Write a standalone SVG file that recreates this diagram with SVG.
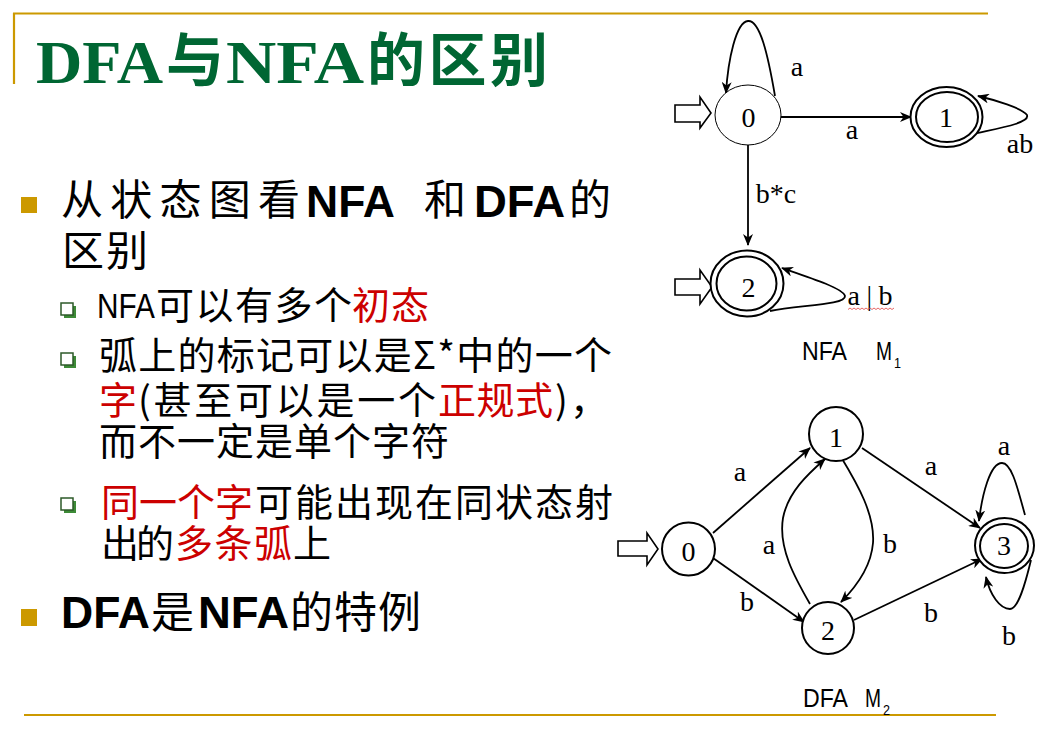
<svg xmlns="http://www.w3.org/2000/svg" width="1039" height="732" viewBox="0 0 1039 732">
<style>
.gold{stroke:#CC9900;stroke-width:2.2;fill:none}
.title{font-family:"Liberation Serif","Noto Sans CJK SC",serif;font-weight:bold;fill:#006633}
.cjk{font-family:"Noto Sans CJK SC",sans-serif;fill:#000}
.lat{font-family:"Liberation Sans","Noto Sans CJK SC",sans-serif;font-weight:bold;fill:#000}
.narrow{font-family:"Liberation Sans","Noto Sans CJK SC",sans-serif;fill:#000}
.red{fill:#CC0000}
.bul{fill:#CC9900}
.st{fill:#fff;stroke:#000;stroke-width:2}
.st0{fill:#fff;stroke:#000;stroke-width:1}
.lbl{font-family:"Liberation Serif","DejaVu Serif",serif;font-size:28px;text-anchor:middle;fill:#000}
.edge{fill:none;stroke:#000;stroke-width:1.8;marker-end:url(#ah)}
.start{fill:#fff;stroke:#000;stroke-width:1.6}
.cap{font-family:"Liberation Sans",sans-serif;fill:#000}
</style>
<defs>
<marker id="ah" viewBox="0 0 12 10" refX="11" refY="5" markerWidth="12" markerHeight="10" markerUnits="userSpaceOnUse" orient="auto">
<path d="M0,0 L12,5 L0,10 L3.5,5 z" fill="#000"/>
</marker>
</defs>
<rect width="1039" height="732" fill="#fff"/>

<!-- frame lines -->
<g id="frame">
<line class="gold" x1="13" y1="13.5" x2="988" y2="13.5"/>
<line class="gold" x1="14" y1="13" x2="14" y2="84"/>
<line class="gold" x1="24" y1="715" x2="996" y2="715"/>
</g>

<!-- title -->
<g id="title">
<text class="title" x="36" y="83" font-size="62" textLength="127" lengthAdjust="spacingAndGlyphs">DFA</text>
<text class="title" x="166" y="81" font-size="58" textLength="58" lengthAdjust="spacingAndGlyphs">与</text>
<text class="title" x="226" y="83" font-size="62" textLength="138" lengthAdjust="spacingAndGlyphs">NFA</text>
<text class="title" x="367" y="81" font-size="58" textLength="181" lengthAdjust="spacing">的区别</text>
</g>

<!-- bullet 1 -->
<g id="bullet1">
<rect class="bul" x="21" y="197" width="16" height="16"/>
<text class="cjk" x="61" y="215" font-size="42" textLength="239" lengthAdjust="spacing">从状态图看</text>
<text class="lat" x="306" y="217" font-size="44" textLength="89" lengthAdjust="spacingAndGlyphs">NFA</text>
<text class="cjk" x="424" y="215" font-size="42">和</text>
<text class="lat" x="474" y="217" font-size="44" textLength="91" lengthAdjust="spacingAndGlyphs">DFA</text>
<text class="cjk" x="569" y="215" font-size="42">的</text>
<text class="cjk" x="62" y="266" font-size="42" textLength="86" lengthAdjust="spacing">区别</text>
</g>

<!-- sub bullets -->
<g id="sub1">
<rect x="64" y="306" width="12" height="12" fill="#3d8b37"/>
<rect x="61" y="303" width="12" height="12" fill="#fff" stroke="#2d5a28" stroke-width="1.5"/>
<text class="narrow" x="97" y="318" font-size="35" textLength="58" lengthAdjust="spacingAndGlyphs">NFA</text>
<text class="cjk" x="156" y="319" font-size="38" textLength="196" lengthAdjust="spacing">可以有多个</text>
<text class="cjk red" x="352" y="319" font-size="38" textLength="77" lengthAdjust="spacing">初态</text>
</g>
<g id="sub2">
<rect x="64" y="356" width="12" height="12" fill="#3d8b37"/>
<rect x="61" y="353" width="12" height="12" fill="#fff" stroke="#2d5a28" stroke-width="1.5"/>
<text class="cjk" x="99" y="369" font-size="38" textLength="513" lengthAdjust="spacing">弧上的标记可以是Σ*中的一个</text>
<text class="cjk red" x="99" y="414" font-size="38">字</text>
<text class="cjk" x="138" y="414" font-size="38" textLength="298" lengthAdjust="spacing">(甚至可以是一个</text>
<text class="cjk red" x="438" y="414" font-size="38" textLength="115" lengthAdjust="spacing">正规式</text>
<text class="cjk" x="555" y="414" font-size="38">)</text>
<text class="cjk" x="570" y="414" font-size="38">，</text>
<text class="cjk" x="99" y="455" font-size="38" textLength="350" lengthAdjust="spacing">而不一定是单个字符</text>
</g>
<g id="sub3">
<rect x="64" y="501" width="12" height="12" fill="#3d8b37"/>
<rect x="61" y="498" width="12" height="12" fill="#fff" stroke="#2d5a28" stroke-width="1.5"/>
<text class="cjk red" x="101" y="516" font-size="38" textLength="152" lengthAdjust="spacing">同一个字</text>
<text class="cjk" x="255" y="516" font-size="38" textLength="358" lengthAdjust="spacing">可能出现在同状态射</text>
<text class="cjk" x="101" y="557" font-size="38" textLength="73" lengthAdjust="spacing">出的</text>
<text class="cjk red" x="175" y="557" font-size="38" textLength="117" lengthAdjust="spacing">多条弧</text>
<text class="cjk" x="293" y="557" font-size="38">上</text>
</g>

<!-- bullet 2 -->
<g id="bullet2">
<rect class="bul" x="21" y="609" width="16" height="17"/>
<text class="lat" x="61" y="628" font-size="45" textLength="89" lengthAdjust="spacingAndGlyphs">DFA</text>
<text class="cjk" x="151" y="628" font-size="43">是</text>
<text class="lat" x="198" y="628" font-size="45" textLength="91" lengthAdjust="spacingAndGlyphs">NFA</text>
<text class="cjk" x="290" y="628" font-size="43" textLength="131" lengthAdjust="spacing">的特例</text>
</g>

<!-- NFA M1 -->
<g id="nfa-connectors">
<path class="edge" d="M775,96 C768,55 760,20 748,21 C736,22 728,60 726,93"/>
<line class="edge" x1="781" y1="117" x2="911" y2="117"/>
<path class="edge" d="M977,133 C1000,128 1030,123 1027,115 C1022,108 995,100 978,96"/>
<line class="edge" x1="748" y1="145" x2="748" y2="245"/>
<path class="edge" d="M770,311 C800,305 846,305 845,296 C843,288 805,276 782,268"/>
</g>
<g id="nfa-start0"><polygon class="start" points="675,105 700,105 700,97 711,113 700,128 700,122 675,122"/></g>
<g id="nfa-start2"><polygon class="start" points="675,279 700,279 700,270 712,287 700,304 700,295 675,295"/></g>
<g id="nfa-s0">
<ellipse class="st0" cx="748" cy="115" rx="33" ry="30"/>
<text class="lbl" x="748.5" y="127">0</text>
</g>
<g id="nfa-s1">
<ellipse class="st" cx="946.5" cy="117" rx="36" ry="30"/>
<ellipse class="st" cx="947" cy="117" rx="31" ry="25"/>
<text class="lbl" x="946" y="127">1</text>
</g>
<g id="nfa-s2">
<ellipse class="st" cx="747" cy="283.5" rx="36.5" ry="33"/>
<ellipse class="st" cx="746.5" cy="283.5" rx="30" ry="27"/>
<text class="lbl" x="748.5" y="297">2</text>
</g>
<g id="nfa-labels">
<text class="lbl" x="797" y="76">a</text>
<text class="lbl" x="852" y="139">a</text>
<text class="lbl" x="1020" y="153">ab</text>
<text class="lbl" x="776" y="203">b*c</text>
<text class="lbl" x="870" y="305" textLength="45" lengthAdjust="spacing">a|b</text>
<path d="M848,309.5 l2,-1.5 l2,1.5 l2,-1.5 l2,1.5 l2,-1.5 l2,1.5 l2,-1.5 l2,1.5 l2,-1.5 l2,1.5 l2,-1.5 l2,1.5 l2,-1.5 l2,1.5 l2,-1.5 l2,1.5 l2,-1.5 l2,1.5 l2,-1.5 l2,1.5 l2,-1.5 l2,1.5 l2,-1.5" fill="none" stroke="#e04040" stroke-width="0.8"/>
<text class="cap" x="802" y="360" font-size="25" textLength="45" lengthAdjust="spacingAndGlyphs">NFA</text>
<text class="cap" x="876" y="360" font-size="25" textLength="16" lengthAdjust="spacingAndGlyphs">M</text>
<text class="cap" x="894" y="368" font-size="15" textLength="7" lengthAdjust="spacingAndGlyphs">1</text>
</g>

<!-- DFA M2 -->
<g id="dfa-connectors">
<line class="edge" x1="713" y1="533" x2="810" y2="448"/>
<line class="edge" x1="713" y1="558" x2="804" y2="622"/>
<line class="edge" x1="862" y1="448" x2="980" y2="528"/>
<line class="edge" x1="854" y1="620" x2="982" y2="559"/>
<path class="edge" d="M810,604 C795,578 778,548 783,518 C788,492 808,474 825,459"/>
<path class="edge" d="M841,457 C858,485 875,515 873,543 C871,568 856,587 841,602"/>
<path class="edge" d="M1025,515 C1018,490 1012,463 1002,463 C990,463 982,495 979,521"/>
<path class="edge" d="M1031,560 C1025,585 1018,609 1010,609 C1000,609 990,595 986,577"/>
</g>
<g id="dfa-start"><polygon class="start" points="618,541 647,541 647,533 658,549 647,565 647,556 618,556"/></g>
<g id="dfa-s0">
<circle class="st" cx="688.5" cy="549" r="26.5"/>
<text class="lbl" x="688.5" y="561">0</text>
</g>
<g id="dfa-s1">
<circle class="st" cx="836" cy="434" r="27"/>
<text class="lbl" x="836" y="447">1</text>
</g>
<g id="dfa-s2">
<circle class="st" cx="828" cy="628" r="26"/>
<text class="lbl" x="828" y="640">2</text>
</g>
<g id="dfa-s3">
<ellipse class="st" cx="1004.5" cy="545.5" rx="29.5" ry="27.5"/>
<ellipse class="st" cx="1004" cy="546" rx="24" ry="22"/>
<text class="lbl" x="1004" y="555">3</text>
</g>
<g id="dfa-labels">
<text class="lbl" x="740" y="481">a</text>
<text class="lbl" x="747" y="611">b</text>
<text class="lbl" x="769" y="554">a</text>
<text class="lbl" x="890" y="553">b</text>
<text class="lbl" x="931" y="475">a</text>
<text class="lbl" x="931" y="622">b</text>
<text class="lbl" x="1004" y="455">a</text>
<text class="lbl" x="1009" y="645">b</text>
<text class="cap" x="803" y="707" font-size="25" textLength="45" lengthAdjust="spacingAndGlyphs">DFA</text>
<text class="cap" x="865" y="707" font-size="25" textLength="16" lengthAdjust="spacingAndGlyphs">M</text>
<text class="cap" x="883" y="715" font-size="15" textLength="7" lengthAdjust="spacingAndGlyphs">2</text>
</g>
</svg>
